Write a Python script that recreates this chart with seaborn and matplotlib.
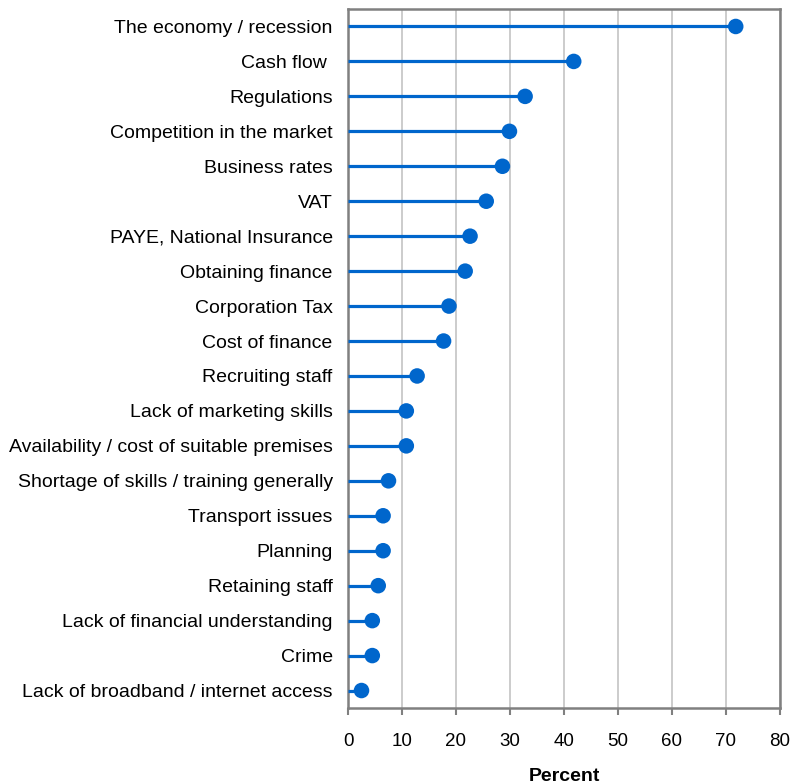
import matplotlib
matplotlib.use("Agg")
import matplotlib.pyplot as plt
import seaborn as sns
import pandas as pd

categories = [
    "The economy / recession",
    "Cash flow ",
    "Regulations",
    "Competition in the market",
    "Business rates",
    "VAT",
    "PAYE, National Insurance",
    "Obtaining finance",
    "Corporation Tax",
    "Cost of finance",
    "Recruiting staff",
    "Lack of marketing skills",
    "Availability / cost of suitable premises",
    "Shortage of skills / training generally",
    "Transport issues",
    "Planning",
    "Retaining staff",
    "Lack of financial understanding",
    "Crime",
    "Lack of broadband / internet access",
]
percent = [71.8, 41.8, 32.8, 29.9, 28.6, 25.6, 22.6, 21.7, 18.7, 17.7,
           12.8, 10.8, 10.8, 7.5, 6.5, 6.5, 5.6, 4.5, 4.5, 2.5]
x_ticks = [0, 10, 20, 30, 40, 50, 60, 70, 80]

df = pd.DataFrame({"issue": categories, "percent": percent})

sns.set_style("white")
plt.rcParams["font.family"] = ["Liberation Sans", "DejaVu Sans"]
plt.rcParams["text.color"] = "black"
plt.rcParams["xtick.color"] = "black"
plt.rcParams["ytick.color"] = "black"

blue = "#0066CC"
fig = plt.figure(figsize=(7.93, 7.84), dpi=100)
ax = fig.add_axes([348 / 793, 1 - 708 / 784, 432 / 793, 699 / 784])

ax.hlines(y=df["issue"], xmin=0, xmax=df["percent"], color=blue, lw=2.3, zorder=3)
sns.scatterplot(data=df, x="percent", y="issue", color=blue, s=125,
                edgecolor="none", ax=ax, zorder=4, legend=False)

ax.set_xlim(0, 80)
ax.set_ylim(len(categories) - 0.5, -0.5)
ax.set_xticks(x_ticks)
ax.set_xticklabels([str(t) for t in x_ticks], fontsize=13.5)
ax.tick_params(axis="y", left=False, length=0, labelsize=14, pad=11,
               labelcolor="black")
ax.tick_params(axis="x", bottom=True, length=5, width=1.5, color="#808080",
               direction="out", pad=13, labelcolor="black")
ax.xaxis.grid(True, color="#C8C8C8", lw=1.3)
ax.set_axisbelow(True)
for sp in ax.spines.values():
    sp.set_color("#808080")
    sp.set_linewidth(1.8)

ax.set_xlabel("Percent", fontsize=14, fontweight="bold", labelpad=13,
              color="black")
ax.set_ylabel("")

fig.savefig("out.png", dpi=100)
